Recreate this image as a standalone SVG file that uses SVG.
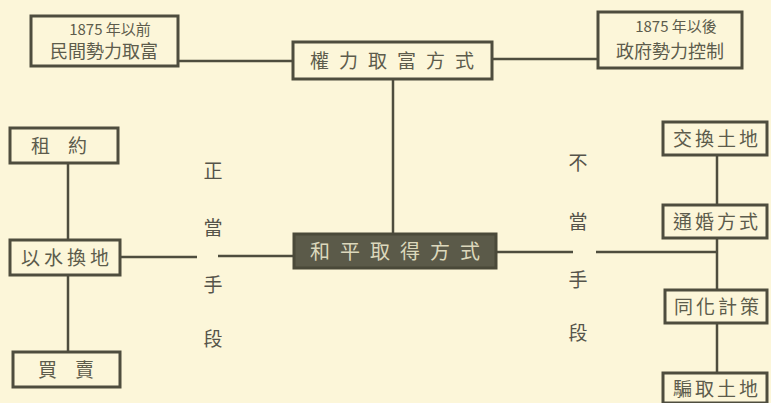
<svg xmlns="http://www.w3.org/2000/svg" width="771" height="403" viewBox="0 0 771 403">
<style>
.bg{fill:#fcf6d9}
.box{fill:#fcf6d9;stroke:#4e4d3e;stroke-width:3}
.dark{fill:#5b5a49;stroke:#4a4939;stroke-width:3}
.ln{stroke:#4e4d3e;stroke-width:2.5;fill:none}
.t{font-family:"Noto Sans CJK TC","Noto Sans CJK SC",sans-serif;font-size:19px;fill:#5d5c4c;text-anchor:middle}
.s{font-family:"Noto Sans CJK TC","Noto Sans CJK SC",sans-serif;font-size:15px;fill:#5d5c4c;text-anchor:middle}
.tw{font-family:"Noto Sans CJK TC","Noto Sans CJK SC",sans-serif;font-size:20px;fill:#dcd8bc;text-anchor:middle}
.v{font-family:"Noto Sans CJK TC","Noto Sans CJK SC",sans-serif;font-size:19px;fill:#55544a;text-anchor:middle}
</style>
<rect class="bg" x="0" y="0" width="771" height="403"/>
<g id="connectors">
<line class="ln" x1="178" y1="61" x2="293" y2="61"/>
<line class="ln" x1="492" y1="59" x2="598" y2="59"/>
<line class="ln" x1="393" y1="79" x2="393" y2="234"/>
<line class="ln" x1="68" y1="163" x2="68" y2="240"/>
<line class="ln" x1="68" y1="275" x2="68" y2="352"/>
<line class="ln" x1="120" y1="257" x2="197" y2="257"/>
<line class="ln" x1="218" y1="256" x2="294" y2="256"/>
<line class="ln" x1="496" y1="252" x2="573" y2="252"/>
<line class="ln" x1="596" y1="252" x2="717" y2="252"/>
<line class="ln" x1="717" y1="155" x2="717" y2="205"/>
<line class="ln" x1="717" y1="238" x2="717" y2="290"/>
<line class="ln" x1="717" y1="323" x2="717" y2="373"/>
</g>
<g id="n-before1875">
<rect class="box" x="31" y="16" width="147" height="50"/>
<text class="s" x="110" y="35">1875 年以前</text>
<text class="s" x="104" y="58" style="font-size:18px">民間勢力取富</text>
</g>
<g id="n-center-top">
<rect class="box" x="293" y="42" width="199" height="37"/>
<text class="t" x="397" y="68" letter-spacing="10">權力取富方式</text>
</g>
<g id="n-after1875">
<rect class="box" x="598" y="12" width="144" height="56"/>
<text class="s" x="676" y="32">1875 年以後</text>
<text class="s" x="670" y="58" style="font-size:18px">政府勢力控制</text>
</g>
<g id="n-peaceful">
<rect class="dark" x="294" y="234" width="202" height="34"/>
<text class="tw" x="400" y="259" letter-spacing="10">和平取得方式</text>
</g>
<g id="n-lease">
<rect class="box" x="10" y="128" width="108" height="35"/>
<text class="t" x="68" y="153" letter-spacing="18">租約</text>
</g>
<g id="n-water">
<rect class="box" x="10" y="240" width="110" height="35"/>
<text class="t" x="67" y="265" letter-spacing="4">以水換地</text>
</g>
<g id="n-trade">
<rect class="box" x="13" y="352" width="107" height="35"/>
<text class="t" x="75" y="377" letter-spacing="18">買賣</text>
</g>
<g id="n-exchange">
<rect class="box" x="663" y="122" width="104" height="33"/>
<text class="t" x="717" y="146" letter-spacing="3">交換土地</text>
</g>
<g id="n-marriage">
<rect class="box" x="663" y="205" width="104" height="33"/>
<text class="t" x="717" y="229" letter-spacing="3">通婚方式</text>
</g>
<g id="n-assimilate">
<rect class="box" x="665" y="290" width="102" height="33"/>
<text class="t" x="718" y="314" letter-spacing="3">同化計策</text>
</g>
<g id="n-deceive">
<rect class="box" x="663" y="373" width="104" height="30"/>
<text class="t" x="717" y="396" letter-spacing="3">騙取土地</text>
</g>
<g id="label-proper">
<text class="v" x="213" y="178">正</text>
<text class="v" x="213" y="235">當</text>
<text class="v" x="213" y="292">手</text>
<text class="v" x="213" y="346">段</text>
</g>
<g id="label-improper">
<text class="v" x="578" y="170">不</text>
<text class="v" x="578" y="229">當</text>
<text class="v" x="578" y="287">手</text>
<text class="v" x="578" y="340">段</text>
</g>
</svg>
